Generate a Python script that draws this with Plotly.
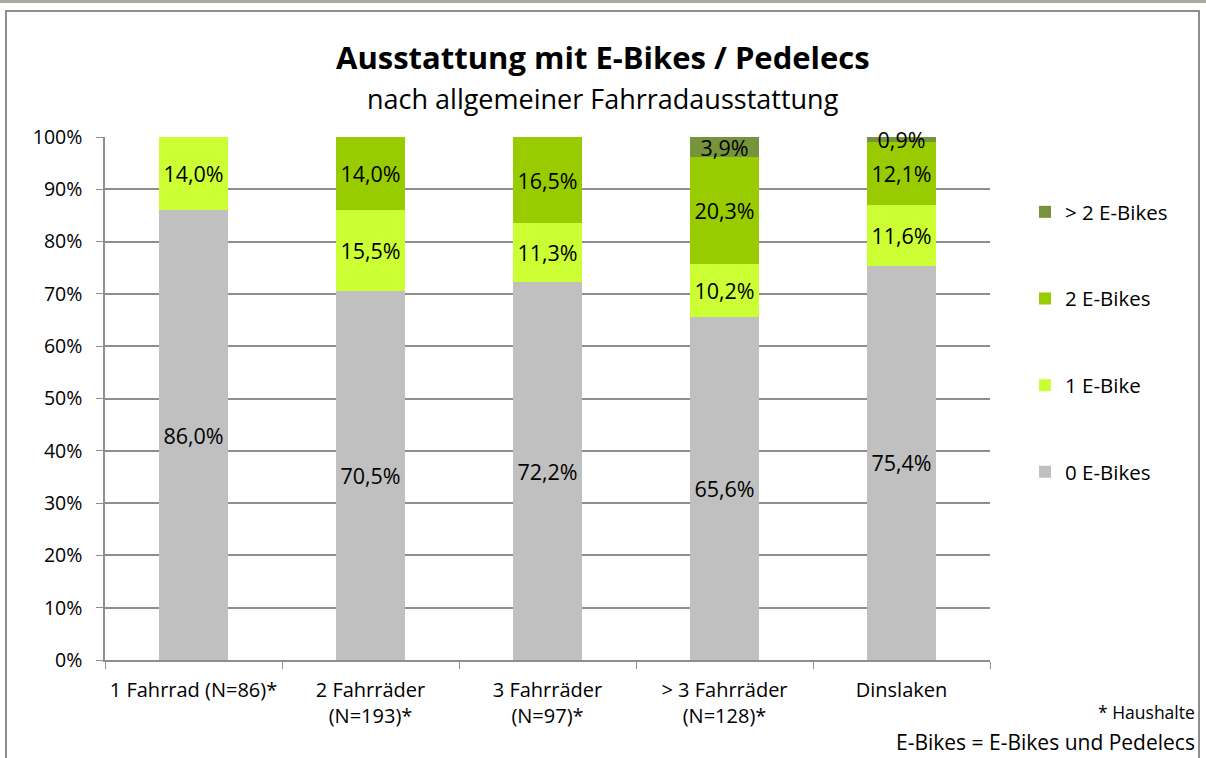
import plotly.graph_objects as go

categories = ["1 Fahrrad (N=86)*", "2 Fahrräder<br>(N=193)*", "3 Fahrräder<br>(N=97)*",
              "> 3 Fahrräder<br>(N=128)*", "Dinslaken"]
series_names = ["0 E-Bikes", "1 E-Bike", "2 E-Bikes", "> 2 E-Bikes"]
vals_0 = [86.0, 70.5, 72.2, 65.6, 75.4]
vals_1 = [14.0, 15.5, 11.3, 10.2, 11.6]
vals_2 = [0.0, 14.0, 16.5, 20.3, 12.1]
vals_3 = [0.0, 0.0, 0.0, 3.9, 0.9]
colors = ["#C0C0C0", "#CCFF33", "#99CC00", "#77933C"]
y_ticks = [0, 10, 20, 30, 40, 50, 60, 70, 80, 90, 100]

FONT = "Open Sans, Carlito, Calibri, sans-serif"
L, R, T, B = 105, 990, 137, 660
PW, PH = R - L, B - T

def px(x):
    return (x - L) / PW

def py(y):
    return (B - y) / PH

def lab(v):
    return "" if v == 0 else f"{v:.1f}%".replace(".", ",")

fig = go.Figure()
ranks = [4, 3, 2, 1]
for name, vals, col, rk in zip(series_names, [vals_0, vals_1, vals_2, vals_3], colors, ranks):
    fig.add_trace(go.Bar(
        x=categories, y=vals, name=name, marker_color=col, marker_line_width=0,
        text=[lab(v) for v in vals], textposition="inside", insidetextanchor="middle",
        textangle=0, constraintext="none",
        textfont=dict(family=FONT, size=21.5, color="black"),
        legendgroup=name, legendrank=rk, cliponaxis=False,
    ))

fig.update_layout(
    width=1206, height=758,
    barmode="stack", bargap=0.605,
    paper_bgcolor="white", plot_bgcolor="white",
    margin=dict(l=L, r=1206 - R, t=T, b=758 - B, autoexpand=False),
    font=dict(family=FONT, size=18, color="black"),
    showlegend=True,
    uniformtext=dict(mode=False),
    legend=dict(x=px(1025), y=py(192), xanchor="left", yanchor="top",
                traceorder="grouped", tracegroupgap=57,
                font=dict(family=FONT, size=20.5, color="black"),
                itemwidth=30, bgcolor="rgba(0,0,0,0)"),
    xaxis=dict(showgrid=False, showline=True, linecolor="#8E8E8E", linewidth=1.5,
               ticks="outside", tickson="boundaries", ticklen=7, tickcolor="#8E8E8E",
               ticklabelstandoff=11, tickangle=0, automargin=False,
               tickfont=dict(family=FONT, size=20), fixedrange=True),
    yaxis=dict(range=[0, 100], tickvals=y_ticks, ticktext=[f"{t}%" for t in y_ticks],
               showgrid=True, gridcolor="#8E8E8E", gridwidth=1.5,
               showline=True, linecolor="#8E8E8E", linewidth=1.5,
               ticks="outside", ticklen=7, tickcolor="#8E8E8E",
               ticklabelstandoff=10, automargin=False,
               tickfont=dict(family=FONT, size=19.5), zeroline=False),
    annotations=[
        dict(text="<b>Ausstattung mit E-Bikes / Pedelecs</b>", xref="paper", yref="paper",
             x=px(603), y=py(57), xanchor="center", yanchor="middle",
             showarrow=False, font=dict(family=FONT, size=31, color="black")),
        dict(text="nach allgemeiner Fahrradausstattung", xref="paper", yref="paper",
             x=px(603), y=py(99), xanchor="center", yanchor="middle",
             showarrow=False, font=dict(family=FONT, size=27, color="black")),
        dict(text="* Haushalte", xref="paper", yref="paper",
             x=px(1197), y=py(712), xanchor="right", yanchor="middle",
             showarrow=False, font=dict(family=FONT, size=17.5, color="black")),
        dict(text="E-Bikes = E-Bikes und Pedelecs", xref="paper", yref="paper",
             x=px(1197), y=py(742), xanchor="right", yanchor="middle",
             showarrow=False, font=dict(family=FONT, size=21, color="black")),
    ],
    shapes=[
        dict(type="rect", xref="paper", yref="paper",
             x0=px(0), x1=px(1206), y0=py(3), y1=py(0),
             fillcolor="#A9A9A0", line_width=0, layer="above"),
        dict(type="rect", xref="paper", yref="paper",
             x0=px(6), x1=px(1199), y0=py(770), y1=py(11),
             line=dict(color="#8E8E8E", width=2), fillcolor="rgba(0,0,0,0)", layer="below"),
    ],
)

fig.write_html("out.html", config={"displayModeBar": False},
               post_script="document.body.style.margin='0';document.body.style.overflow='hidden';")
